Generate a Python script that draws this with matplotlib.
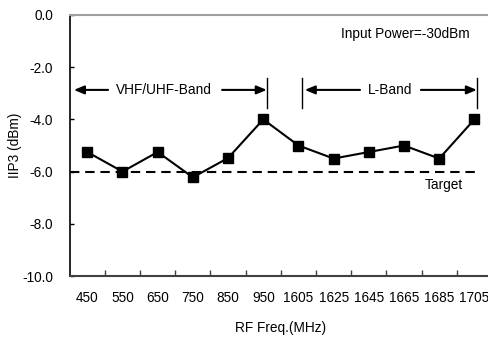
import matplotlib
matplotlib.use("Agg")
import matplotlib.pyplot as plt

plt.rcParams['font.family'] = ['Liberation Sans', 'DejaVu Sans']

freqs = ['450', '550', '650', '750', '850', '950', '1605', '1625', '1645', '1665', '1685', '1705']
iip3 = [-5.25, -6.0, -5.25, -6.22, -5.48, -4.0, -5.0, -5.5, -5.25, -5.0, -5.5, -4.0]
target = -6.0
yticks = [0.0, -2.0, -4.0, -6.0, -8.0, -10.0]

fs = 9.8
fig = plt.figure(figsize=(4.89, 3.39), dpi=100)
ax = fig.add_axes([69.7/489, 1-276/339, (492-69.7)/489, (276-15)/339])

x = list(range(len(freqs)))
ax.plot(x, iip3, color='black', lw=1.5, marker='s', markersize=6.5, zorder=3)
ax.plot([-0.5, 11.07], [target, target], color='black', lw=1.5, dashes=(4.5, 2.8))

ax.set_xlim(-0.5, len(freqs) - 0.5)
ax.set_ylim(-10, 0)
ax.set_yticks(yticks)
ax.set_yticklabels([f'{v:.1f}' for v in yticks], fontsize=fs)
ax.set_xticks([i + 0.5 for i in range(len(freqs))])
ax.set_xticklabels([])
ax.set_xticks(x, minor=True)
ax.set_xticklabels(freqs, minor=True, fontsize=fs)
ax.tick_params(axis='x', which='major', direction='in', length=4, width=1, color='#404040')
ax.tick_params(axis='x', which='minor', length=0, pad=10.5)
ax.tick_params(axis='y', direction='in', length=3, width=1, pad=12)

ax.spines['right'].set_visible(False)
ax.spines['top'].set_color('#a0a0a0')
ax.spines['top'].set_linewidth(1.5)
ax.spines['left'].set_color('black')
ax.spines['left'].set_linewidth(1.2)
ax.spines['bottom'].set_color('#404040')
ax.spines['bottom'].set_linewidth(1.5)

ax.set_ylabel('IIP3 (dBm)', fontsize=fs)
ax.yaxis.set_label_coords(-0.1295, 0.5)
ax.set_xlabel('RF Freq.(MHz)', fontsize=fs)
ax.xaxis.set_label_coords(0.5, -0.199)
ax.xaxis.label.set_va('center')
ax.yaxis.label.set_va('center')

ya = -2.87
ap = dict(arrowstyle='-|>,head_length=0.6,head_width=0.25', color='black', lw=1.5, shrinkA=0, shrinkB=0)
ax.text(2.165, ya, 'VHF/UHF-Band', fontsize=fs, ha='center', va='center')
ax.annotate('', xy=(-0.38, ya), xytext=(0.59, ya), arrowprops=ap)
ax.annotate('', xy=(5.1, ya), xytext=(3.83, ya), arrowprops=ap)
ax.text(8.6, ya, 'L-Band', fontsize=fs, ha='center', va='center')
ax.annotate('', xy=(6.18, ya), xytext=(7.75, ya), arrowprops=ap)
ax.annotate('', xy=(11.07, ya), xytext=(9.48, ya), arrowprops=ap)
for xb in [5.12, 6.1, 11.07]:
    ax.plot([xb, xb], [-2.41, -3.56], color='black', lw=1)

ax.text(9.05, -0.73, 'Input Power=-30dBm', fontsize=fs, ha='center', va='center')
ax.text(10.13, -6.5, 'Target', fontsize=fs, ha='center', va='center')

fig.savefig('out.png', dpi=100)
